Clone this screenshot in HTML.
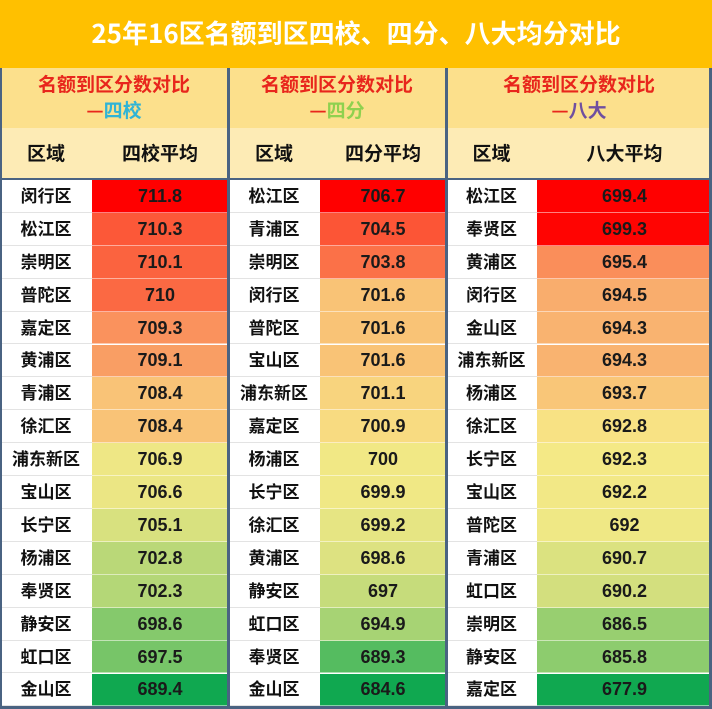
<!DOCTYPE html>
<html><head><meta charset="utf-8">
<style>
html,body{margin:0;padding:0;width:712px;height:709px;overflow:hidden;background:#fff;}
body{font-family:"Liberation Sans","Noto Sans CJK SC",sans-serif;position:relative;}
.t{position:absolute;display:flex;align-items:center;justify-content:center;box-sizing:border-box;font-weight:bold;line-height:1;}
.cjk{font-family:"Noto Sans CJK SC",sans-serif;padding-bottom:3px;}
#title{left:0;top:0;width:712px;height:68px;background:#FFC000;color:#fff;font-size:26px;}
</style></head><body>
<div id="title" class="t cjk">25年16区名额到区四校、四分、八大均分对比</div>
<div id="root"></div>
<script>
const namesA=["闵行区","松江区","崇明区","普陀区","嘉定区","黄浦区","青浦区","徐汇区","浦东新区","宝山区","长宁区","杨浦区","奉贤区","静安区","虹口区","金山区"];
const valsA=[711.8,710.3,710.1,710,709.3,709.1,708.4,708.4,706.9,706.6,705.1,702.8,702.3,698.6,697.5,689.4];
const labelsA=["711.8","710.3","710.1","710","709.3","709.1","708.4","708.4","706.9","706.6","705.1","702.8","702.3","698.6","697.5","689.4"];
const namesB=["松江区","青浦区","崇明区","闵行区","普陀区","宝山区","浦东新区","嘉定区","杨浦区","长宁区","徐汇区","黄浦区","静安区","虹口区","奉贤区","金山区"];
const valsB=[706.7,704.5,703.8,701.6,701.6,701.6,701.1,700.9,700,699.9,699.2,698.6,697,694.9,689.3,684.6];
const labelsB=["706.7","704.5","703.8","701.6","701.6","701.6","701.1","700.9","700","699.9","699.2","698.6","697","694.9","689.3","684.6"];
const namesC=["松江区","奉贤区","黄浦区","闵行区","金山区","浦东新区","杨浦区","徐汇区","长宁区","宝山区","普陀区","青浦区","虹口区","崇明区","静安区","嘉定区"];
const valsC=[699.4,699.3,695.4,694.5,694.3,694.3,693.7,692.8,692.3,692.2,692,690.7,690.2,686.5,685.8,677.9];
const labelsC=["699.4","699.3","695.4","694.5","694.3","694.3","693.7","692.8","692.3","692.2","692","690.7","690.2","686.5","685.8","677.9"];

const panels=[
 {x:0,nameW:92,w:228,sub:"四校",subC:"#2fb4d6",head:"四校平均",names:namesA,vals:valsA,labels:labelsA,key:"sixiao"},
 {x:228,nameW:92,w:218,sub:"四分",subC:"#8fd14f",head:"四分平均",names:namesB,vals:valsB,labels:labelsB,key:"sifen"},
 {x:446,nameW:91,w:266,sub:"八大",subC:"#6f4fa0",head:"八大平均",names:namesC,vals:valsC,labels:labelsC,key:"bada"}
];
const rowTop=180,rowH=32.9;
function lerp(a,b,t){return a.map((v,i)=>Math.round(v+(b[i]-v)*t));}
function color(v,arr){
 const s=[...arr].sort((a,b)=>a-b);const n=s.length;
 const med=(s[Math.floor((n-1)/2)]+s[Math.ceil((n-1)/2)])/2;
 const mn=s[0],mx=s[n-1];
 const G=[16,168,80],Y=[248,234,135],O=[249,170,108],R=[255,0,0];
 let c;
 if(v<=med){c=lerp(G,Y,(v-mn)/(med-mn||1));}
 else{const t=(v-med)/(mx-med||1);c=t<0.3?lerp(Y,O,t/0.3):lerp(O,R,(t-0.3)/0.7);}
 return `rgb(${c[0]},${c[1]},${c[2]})`;
}
const root=document.getElementById('root');
function mk(name,css,txt,cls){const d=document.createElement('div');d.className='t'+(cls?' '+cls:'');d.style.cssText=css;if(txt!==undefined)d.textContent=txt;


root.appendChild(d);return d;}
panels.forEach(p=>{
 const vw=p.w-p.nameW;
 const h=mk(p.key+'-panel-header',`left:${p.x}px;top:68px;width:${p.w}px;height:60px;background:#FCE08C;flex-direction:column;font-size:19px;line-height:26px;`,undefined,'cjk');
 h.innerHTML=`<span style="color:#e8261c">名额到区分数对比</span><span><span style="color:#e8261c">—</span><span style="color:${p.subC}">${p.sub}</span></span>`;
 mk(p.key+'-col-region',`left:${p.x}px;top:128px;width:${p.nameW}px;height:51px;background:#FDEBB5;font-size:19px;color:#111;`,"区域",'cjk');
 mk(p.key+'-col-avg',`left:${p.x+p.nameW}px;top:128px;width:${vw}px;height:51px;background:#FDEBB5;font-size:19px;color:#111;`,p.head,'cjk');
 mk(p.key+'-header-rule',`left:${p.x}px;top:178px;width:${p.w}px;height:2px;background:#4a6382;`);
 p.names.forEach((nm,i)=>{
  const y=rowTop+i*rowH;
  mk(p.key+'-region-'+i,`left:${p.x}px;top:${y}px;width:${p.nameW}px;height:${rowH}px;background:#fff;border-bottom:1px solid #e3e3e3;font-size:17px;color:#111;`,nm,'cjk');
  mk(p.key+'-value-'+i,`left:${p.x+p.nameW}px;top:${y}px;width:${vw}px;height:${rowH}px;background:${color(p.vals[i],p.vals)};border-bottom:1px solid rgba(255,255,255,0.5);font-size:18px;color:#1a1a1a;`,p.labels[i]);
 });
});
mk('divider-left',`left:0;top:68px;width:2px;height:641px;background:#4a6382;`);
mk('divider-1',`left:227px;top:68px;width:3px;height:641px;background:#4a6382;`);
mk('divider-2',`left:445px;top:68px;width:3px;height:641px;background:#4a6382;`);
mk('divider-right',`left:709px;top:68px;width:3px;height:641px;background:#4a6382;`);
mk('bottom-rule',`left:0;top:706px;width:712px;height:3px;background:#4a6382;`);
</script>
</body></html>
